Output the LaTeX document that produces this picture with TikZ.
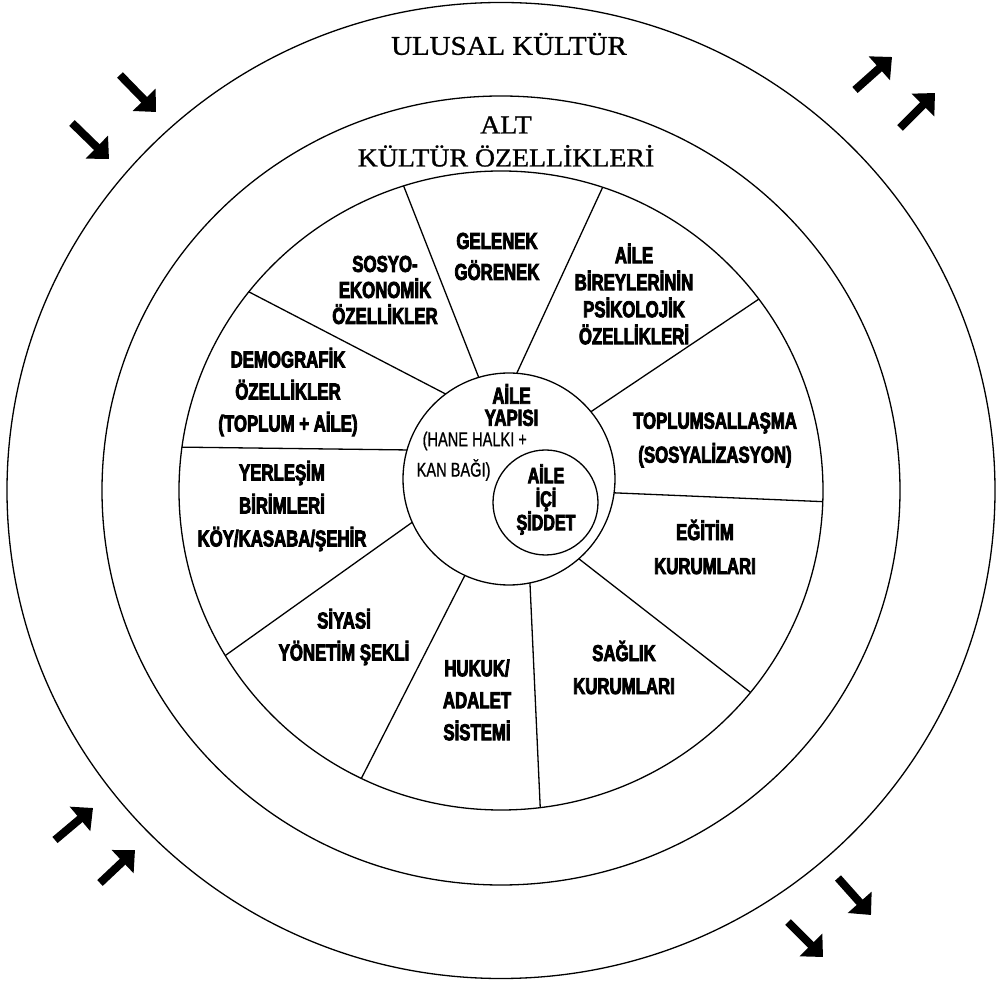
\documentclass[tikz,border=0pt]{standalone}
\usepackage{fontspec}
\setmainfont{Liberation Serif}
\newfontfamily\ringfont[FakeStretch=1.07,FakeBold=1]{Liberation Serif}
\newfontfamily\wheelfont[FakeStretch=0.73,FakeBold=0.8,BoldFeatures={FakeBold=3.5}]{Liberation Sans}
\usetikzlibrary{arrows.meta}

\begin{document}
\begin{tikzpicture}[x=1pt,y=1pt,line width=1.3pt,
    ringlabel/.style={font=\ringfont\fontsize{#1}{33}\selectfont,align=center},
    sector/.style={font=\wheelfont\bfseries\fontsize{23}{#1}\selectfont,align=center},
    sector/.default=32,
    bigarrow/.style={line width=8pt,-{Triangle[length=17pt,width=31pt]}}]
    \useasboundingbox (-501,-490.5) rectangle (497,490.5);
    % rings
    \draw (0,0) ellipse [x radius=494, y radius=488];
    \draw (0,0) ellipse [x radius=399, y radius=394.5];
    \draw (0,0) ellipse [x radius=322, y radius=319.5];
    \coordinate (yapi) at (8,11.5);
    \coordinate (siddet) at (44.5,-12);
    % spokes of the wheel
    \foreach \oa/\ia in {107.6/106.6,141.55/126.7,172.2/164.1,211.1/204.1,244.3/245.4,
                         277/281.4,320.8/311.2,358/352.5,36.8/39.4,71.6/85.8}
        \draw (\oa:322 and 319.5) -- ([shift={(\ia:106)}]yapi);
    \draw (yapi) circle (106);
    \draw (siddet) circle (52.5);
    % labels
    \node [ringlabel=27] (ulusal) at (8,446.5) {ULUSAL KÜLTÜR};
    \node [ringlabel=26] (alt) at (5,349) {ALT\\KÜLTÜR ÖZELLİKLERİ};
    \node [sector=31] (gelenek) at (-4,234) {GELENEK\\GÖRENEK};
    \node [sector=26] (sosyo) at (-116,200.5) {SOSYO-\\EKONOMİK\\ÖZELLİKLER};
    \node [sector] (demografik) at (-213,98.5) {DEMOGRAFİK\\ÖZELLİKLER\\(TOPLUM + AİLE)};
    \node [sector=33] (yerlesim) at (-219,-15.5) {YERLEŞİM\\BİRİMLERİ\\KÖY/KASABA/ŞEHİR};
    \node [sector] (siyasi) at (-157,-146.5) {SİYASİ\\YÖNETİM ŞEKLİ};
    \node [sector] (hukuk) at (-24,-209.5) {HUKUK/\\ADALET\\SİSTEMİ};
    \node [sector=33] (saglik) at (123,-177) {SAĞLIK\\KURUMLARI};
    \node [sector=34] (egitim) at (204,-56.5) {EĞİTİM\\KURUMLARI};
    \node [sector=34] (toplum) at (214,50.5) {TOPLUMSALLAŞMA\\(SOSYALİZASYON)};
    \node [sector=27] (psiko) at (133,196.5) {AİLE\\BİREYLERİNİN\\PSİKOLOJİK\\ÖZELLİKLERİ};
    % centre
    \node [sector=22] (aileyapisi) at (10.5,85.5) {AİLE\\YAPISI};
    \node [anchor=west,inner sep=0pt,font=\wheelfont\fontsize{20}{20}\selectfont] (hane) at (-79,49.5) {(HANE HALKI +};
    \node [anchor=west,inner sep=0pt,font=\wheelfont\fontsize{20}{20}\selectfont] (kan) at (-85,20.5) {KAN BAĞI)};
    \node [font=\wheelfont\bfseries\fontsize{22}{23.5}\selectfont,align=center] (aileici) at (45,-9) {AİLE\\İÇİ\\ŞİDDET};
    % arrows
    \draw [bigarrow] (-381,415.5) -- (-345,378.5);
    \draw [bigarrow] (-429,367.5) -- (-392,331.5);
    \draw [bigarrow] (354,400.5) -- (391,433.5);
    \draw [bigarrow] (399,362.5) -- (434,397.5);
    \draw [bigarrow] (-446,-349.5) -- (-408,-317.5);
    \draw [bigarrow] (-401,-392.5) -- (-366,-359.5);
    \draw [bigarrow] (337,-387.5) -- (370,-424.5);
    \draw [bigarrow] (287,-431.5) -- (322,-466.5);
\end{tikzpicture}
\end{document}
